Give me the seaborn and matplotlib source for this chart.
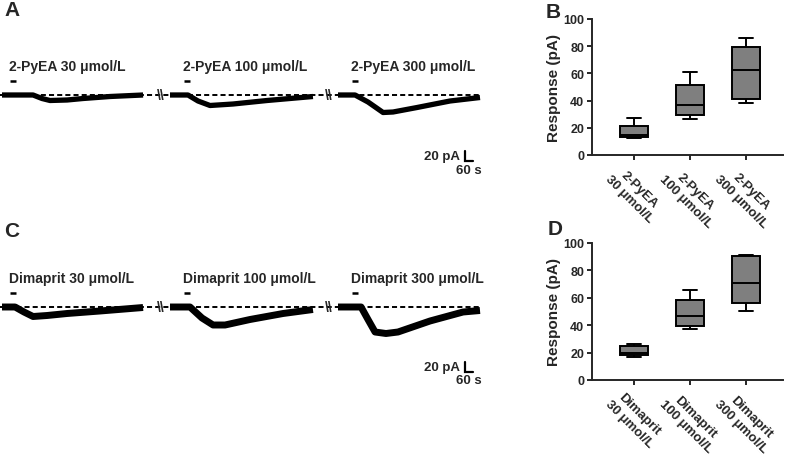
import numpy as np
import pandas as pd
import matplotlib
matplotlib.use("Agg")
import matplotlib.pyplot as plt
import seaborn as sns

# ---------------- data ----------------
# Box plots (min, Q1, median, Q3, max)
pyea_groups = ["2-PyEA\n30 μmol/L", "2-PyEA\n100 μmol/L", "2-PyEA\n300 μmol/L"]
pyea_30 = [12.5, 13.5, 14.5, 21.5, 27.0]
pyea_100 = [26.5, 29.5, 37.0, 51.5, 61.0]
pyea_300 = [38.5, 41.0, 62.5, 79.5, 86.0]

dima_groups = ["Dimaprit\n30 μmol/L", "Dimaprit\n100 μmol/L", "Dimaprit\n300 μmol/L"]
dima_30 = [17.0, 18.0, 20.0, 25.0, 26.5]
dima_100 = [37.0, 39.5, 46.5, 58.5, 66.0]
dima_300 = [50.5, 56.0, 70.5, 90.5, 91.5]

# Current traces (time in s from segment start, current in pA)
pyea_labels = ["2-PyEA 30 μmol/L", "2-PyEA 100 μmol/L", "2-PyEA 300 μmol/L"]
pyea_t1 = [0, 233, 300, 360, 488, 608, 810, 1058]
pyea_i1 = [0, 0, -7, -11, -10, -7, -3, 0]
pyea_t2 = [0, 135, 210, 300, 473, 728, 1072]
pyea_i2 = [0, 0, -12, -21, -18, -11, -3]
pyea_t3 = [0, 128, 225, 338, 413, 593, 840, 1065]
pyea_i3 = [0, 0, -14, -35, -34, -25, -12, -5]

dima_labels = ["Dimaprit 30 μmol/L", "Dimaprit 100 μmol/L", "Dimaprit 300 μmol/L"]
dima_t1 = [0, 98, 165, 233, 338, 488, 735, 1058]
dima_i1 = [0, 0, -10, -19, -17, -13, -8, -1]
dima_t2 = [0, 150, 240, 323, 413, 600, 848, 1072]
dima_i2 = [0, 0, -22, -36, -36, -25, -13, -5]
dima_t3 = [0, 173, 225, 278, 360, 450, 690, 938, 1065]
dima_i3 = [0, 0, -25, -50, -53, -50, -28, -10, -7]

# drug application onset (s from segment start) and duration
app_onset = [60, 105, 105]
app_duration = 45
segment_offsets = [0, 1260, 2520]

# ---------------- style ----------------
sns.set_style("ticks")
plt.rcParams["font.family"] = ["Liberation Sans", "DejaVu Sans"]
plt.rcParams["font.weight"] = "bold"

W, H = 787, 460
fig = plt.figure(figsize=(W / 100, H / 100), dpi=100)


def fig_rect(x0, y0, x1, y1):
    return [x0 / W, 1 - y1 / H, (x1 - x0) / W, (y1 - y0) / H]


PX_S = 7.5   # seconds per pixel
PX_PA = 2.0  # pA per pixel


def trace_panel(rect_px, base_px, ts, is_, labels, lw, sb_corner_px):
    x0, y0, x1, y1 = rect_px
    ax = fig.add_axes(fig_rect(x0, y0, x1, y1))
    ax.set_xlim((x0 - 2) * PX_S, (x1 - 2) * PX_S)
    ax.set_ylim(-(y1 - base_px) * PX_PA, (base_px - y0) * PX_PA)
    ax.axis("off")
    # dashed baseline
    ax.axhline(0, xmin=0.0, xmax=(481 - x0) / (x1 - x0), color="black",
               lw=1.4, ls=(0, (2.6, 1.6)), zorder=4)
    for k in range(3):
        off = segment_offsets[k]
        df = pd.DataFrame({"t": np.array(ts[k]) + off, "i": is_[k]})
        sns.lineplot(data=df, x="t", y="i", color="black", lw=lw, ax=ax,
                     sort=False, zorder=3, solid_capstyle="butt")
        # drug application bar and label
        a0 = off + app_onset[k]
        ax.plot([a0, a0 + app_duration], [28, 28], color="black", lw=1.8,
                solid_capstyle="butt")
        ax.text(off + app_onset[k] - 5, 58, labels[k], ha="left", va="center",
                fontsize=10, fontweight="bold")
    # break marks
    for bx in [(161 - 2) * PX_S, (329 - 2) * PX_S]:
        ax.text(bx, 0, "\\\\", ha="center", va="center", fontsize=10,
                fontweight="bold", zorder=5)
    ax.set_xlabel("")
    ax.set_ylabel("")
    # scale bar
    cx = (sb_corner_px[0] - 2) * PX_S
    cy = (base_px - sb_corner_px[1]) * PX_PA
    ax.plot([cx, cx, cx + 60], [cy + 20, cy, cy], color="black", lw=1.6,
            solid_joinstyle="miter")
    ax.text(cx - 40, cy + 10, "20 pA", ha="right", va="center", fontsize=9.5,
            fontweight="bold")
    ax.text(cx + 28, cy - 17, "60 s", ha="center", va="center", fontsize=9.5,
            fontweight="bold")
    return ax


trace_panel((0, 45, 490, 185), 96, [pyea_t1, pyea_t2, pyea_t3],
            [pyea_i1, pyea_i2, pyea_i3], pyea_labels, 3.8, (465, 162))
trace_panel((0, 255, 490, 395), 308, [dima_t1, dima_t2, dima_t3],
            [dima_i1, dima_i2, dima_i3], dima_labels, 5.0, (465, 373))


def box_panel(rect_px, groups, vals):
    ax = fig.add_axes(fig_rect(*rect_px))
    df = pd.DataFrame({
        "group": np.repeat(groups, [len(v) for v in vals]),
        "value": np.concatenate(vals),
    })
    sns.boxplot(data=df, x="group", y="value", order=groups, color="#7f7f7f",
                saturation=1, width=0.5, linecolor="black", linewidth=1.4,
                whis=(0, 100), ax=ax)
    ax.set_xlim(-0.75, 2.66)
    ax.set_ylim(0, 100)
    ax.set_yticks([0, 20, 40, 60, 80, 100])
    ax.set_xlabel("")
    ax.set_ylabel("Response (pA)", fontsize=11, fontweight="bold", labelpad=2)
    sns.despine(ax=ax)
    for s in ["left", "bottom"]:
        ax.spines[s].set_linewidth(1.4)
    ax.tick_params(axis="both", width=1.4, length=3.5, labelsize=9, pad=2)
    ax.set_xticks(range(len(groups)))
    ax.set_xticklabels(groups, rotation=-45, ha="center", fontweight="bold",
                       fontsize=9.5)
    for lab in ax.get_yticklabels():
        lab.set_fontweight("bold")
    return ax


box_panel((592, 20, 783, 156), pyea_groups, [pyea_30, pyea_100, pyea_300])
box_panel((592, 244, 783, 381), dima_groups, [dima_30, dima_100, dima_300])

for lab, (x, y) in zip("ABCD", [(4, 10), (546, 12), (4, 232), (548, 230)]):
    fig.text(x / W, 1 - y / H, lab, fontsize=15, fontweight="bold",
             ha="left", va="center")

fig.savefig("out.png", dpi=100)
